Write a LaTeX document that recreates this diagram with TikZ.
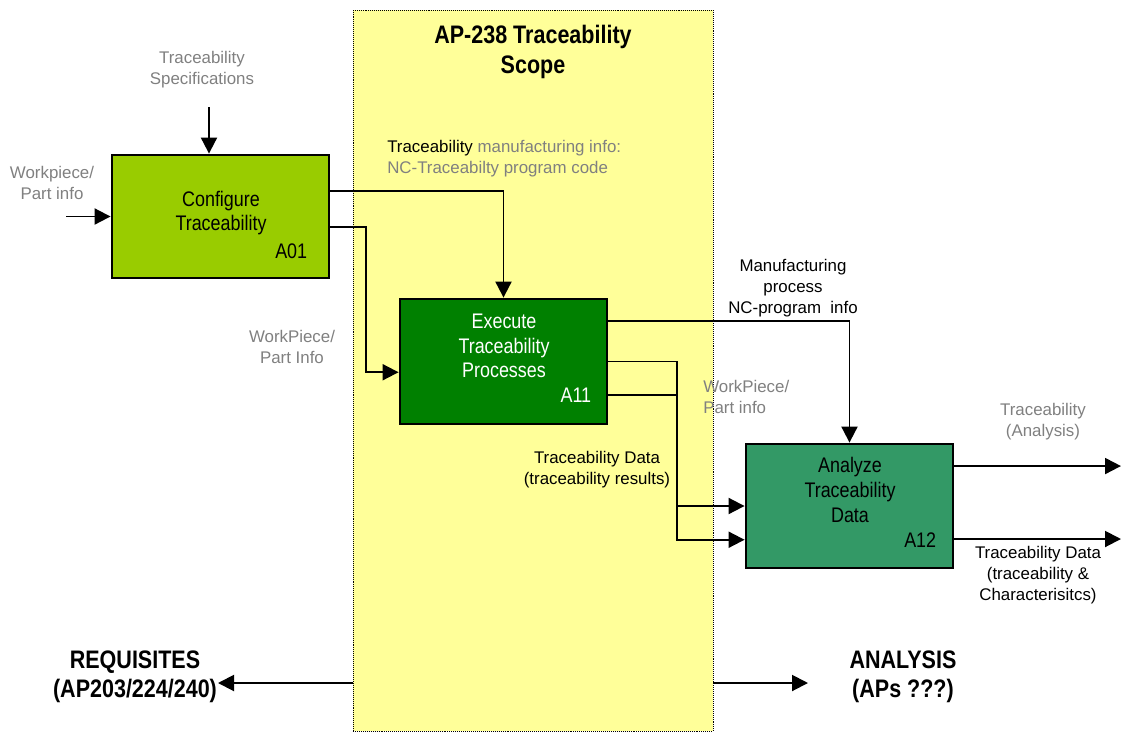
\documentclass[tikz,border=0pt]{standalone}
\usepackage{fontspec}
\setmainfont{Liberation Sans}
\newfontfamily\narrowfont[FakeStretch=0.85]{Liberation Sans}
\usetikzlibrary{arrows.meta, calc}
\definecolor{scopeyellow}{HTML}{FFFF99}
\definecolor{cfggreen}{HTML}{99CC00}
\definecolor{exegreen}{HTML}{008000}
\definecolor{anagreen}{HTML}{339966}
\definecolor{labgray}{HTML}{808080}
\tikzset{
	box/.style={draw=black, line width=2pt, minimum width=5.175cm, minimum height=3.1cm, inner sep=0pt},
	boxtext/.style={font=\narrowfont\fontsize{15}{17.5}\selectfont, align=center, inner sep=0pt},
	biglab/.style={font=\narrowfont\bfseries\fontsize{18}{21}\selectfont, align=center, inner sep=0pt},
	flow/.style={line width=1.4pt, -{Triangle[length=0.4cm,width=0.4cm]}},
	glab/.style={text=labgray, font=\fontsize{12}{15}\selectfont, align=center, inner sep=0pt},
	blab/.style={glab, text=black},
}

\begin{document}
\begin{tikzpicture}[x=0.025cm, y=-0.025cm]
				\useasboundingbox (0,0) rectangle (1121,733);
				% scope area
				\node[draw=black, densely dotted, thin, fill=scopeyellow, minimum width=9cm, minimum height=18.025cm, inner sep=0pt] (scope) at (533,370.5) {};
				\node[biglab] (title) at (533,52) {AP-238 Traceability\\Scope};
				% activities
				\node[box, fill=cfggreen, minimum width=5.425cm, minimum height=3.075cm] (cfg) at (220.5,216.5) {};
				\node[box, fill=exegreen, minimum height=3.125cm] (exe) at (503.5,361.5) {};
				\node[box, fill=anagreen] (ana) at (849.5,506) {};
				\node[boxtext] (cfgtxt) at (221,213) {Configure\\Traceability};
				\node[boxtext, text=white] (exetxt) at (504,346) {Execute\\Traceability\\Processes};
				\node[boxtext] (anatxt) at (850,490) {Analyze\\Traceability\\Data};
				\node[boxtext, anchor=east] (cfgid) at ([shift={(-23,-28)}]cfg.south east) {A01};
				\node[boxtext, anchor=east, text=white] (exeid) at ([shift={(-17,-30)}]exe.south east) {A11};
				\node[boxtext, anchor=east] (anaid) at ([shift={(-18,-29)}]ana.south east) {A12};
				% labels
				\node[glab] (speclab) at (202,70) {Traceability\\Specifications};
				\node[glab] (wplab) at (52,183) {Workpiece/\\Part info};
				\node[glab, anchor=west, align=left] (tmilab) at (387,159) {{\color{black}Traceability} manufacturing info:\\NC-Traceabilty program code};
				\node[glab] (wplab2) at (292,347) {WorkPiece/\\Part Info};
				\node[blab] (mfglab) at (793,288) {Manufacturing\\process\\NC-program\ \ info};
				\node[glab, anchor=west, align=left] (wplab3) at (703,397) {WorkPiece/\\Part info};
				\node[blab] (tdlab) at (597,470) {Traceability Data\\(traceability results)};
				\node[glab] (talab) at (1043,422) {Traceability\\(Analysis)};
				\node[blab] (tdclab) at (1038,575) {Traceability Data\\(traceability \&\\Characterisitcs)};
				\node[biglab] (req) at (135,677) {REQUISITES\\(AP203/224/240)};
				\node[biglab] (anl) at (903,677) {ANALYSIS\\(APs ???)};
				% inputs
				\coordinate (specin) at (209,107);
				\coordinate (wpin) at (66,216.5);
				\draw[flow] (specin) -- (specin |- cfg.north);
				\draw[flow] (wpin) -- (cfg.west);
				% A01 outputs
				\coordinate (cfgoA) at ($(cfg.north east)!0.3!(cfg.south east)$);
				\coordinate (cfgoB) at ($(cfg.north east)!0.585!(cfg.south east)$);
				\coordinate (exeinB) at ($(exe.north west)!0.584!(exe.south west)$);
				\draw[flow] (cfgoA) -| (exe.north);
				\draw[flow] (cfgoB) -- ++(36,0) |- (exeinB);
				% A11 outputs
				\coordinate (jx) at (677,0);
				\coordinate (exeoA) at ($(exe.north east)!0.184!(exe.south east)$);
				\coordinate (exeoC) at ($(exe.north east)!0.76!(exe.south east)$);
				\coordinate (anainB) at ($(ana.north west)!0.766!(ana.south west)$);
				\draw[flow] (exeoA) -| (ana.north);
				\draw[flow] (exe.east) -- (exe.east -| jx) |- (anainB);
				\draw[flow] (exeoC) -- (exeoC -| jx) |- (ana.west);
				% A12 outputs
				\coordinate (anaoA) at ($(ana.north east)!0.185!(ana.south east)$);
				\coordinate (outA) at (1121,467);
				\coordinate (outB) at (1121,539);
				\draw[flow] (anaoA) -- (anaoA -| outA);
				\draw[flow] (ana.east |- outB) -- (outB);
				% scope to the other APs
				\coordinate (reqtip) at (218,683);
				\coordinate (anltip) at (808,683);
				\draw[flow] (scope.west |- reqtip) -- (reqtip);
				\draw[flow] (scope.east |- anltip) -- (anltip);
\end{tikzpicture}
\end{document}
